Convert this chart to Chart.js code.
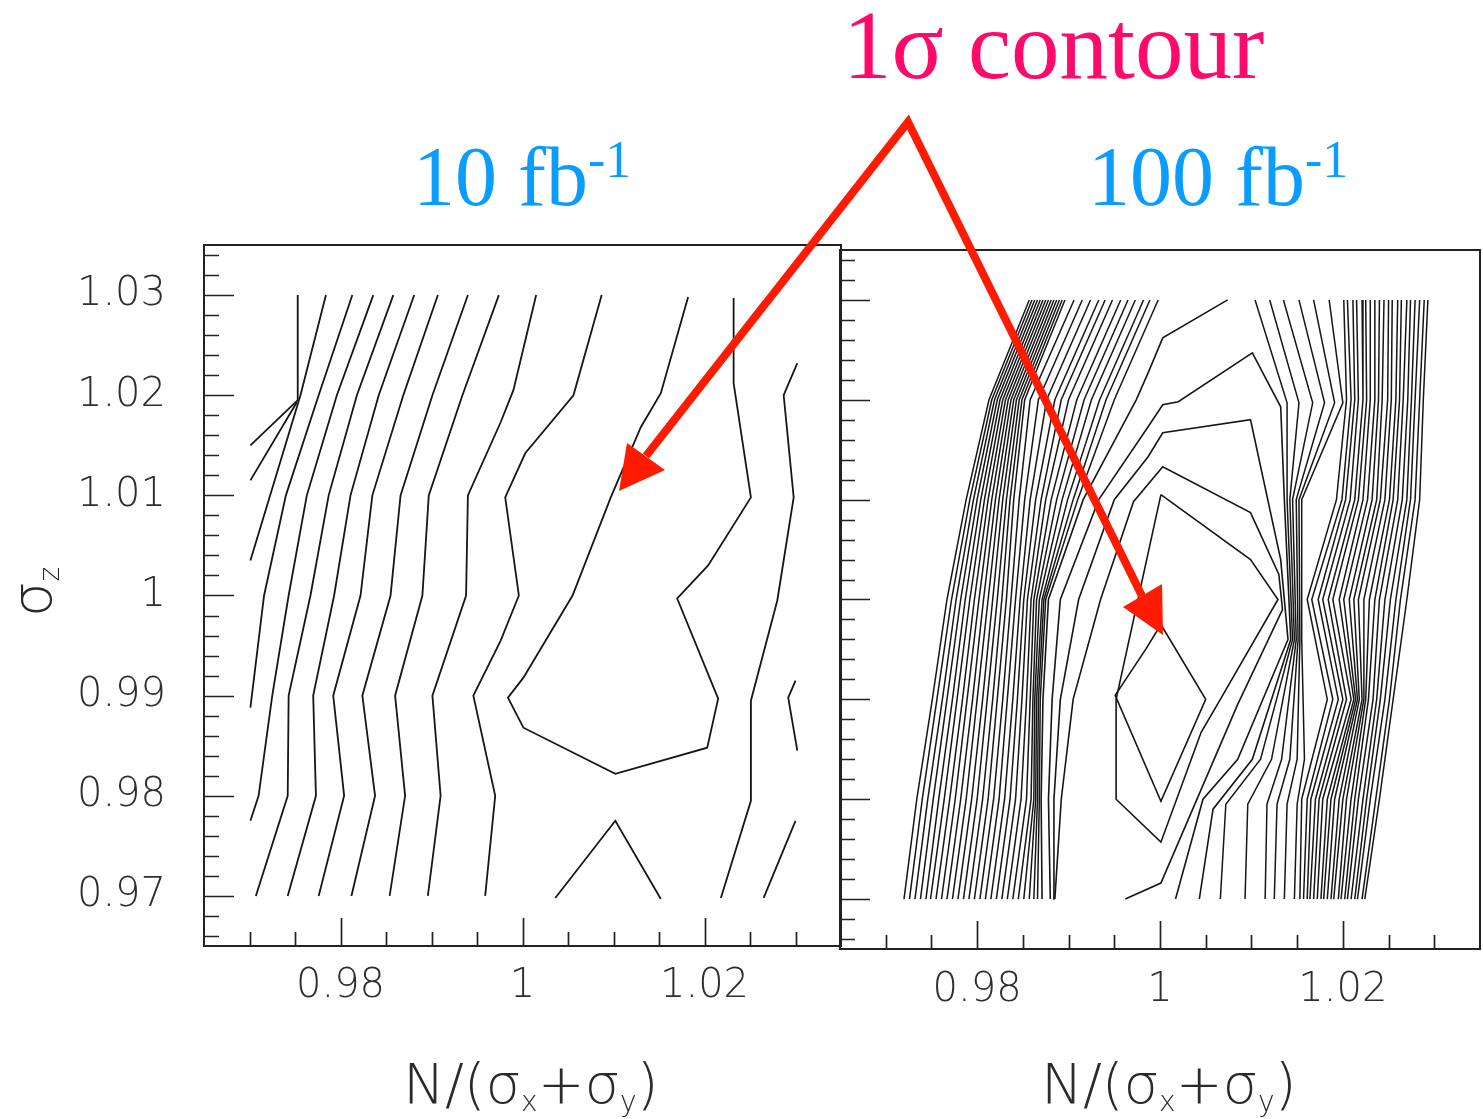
<!DOCTYPE html>
<html>
<head>
<meta charset="utf-8">
<title>sigma_z contours</title>
<script src="https://cdn.jsdelivr.net/npm/chart.js@4.4.1/dist/chart.umd.min.js"></script>
<style>
  html, body { margin: 0; padding: 0; background: #fff; }
  #page { position: relative; width: 1483px; height: 1119px; overflow: hidden; }
  canvas { position: absolute; top: 0; }
  #lumi10 { left: 0; }
  #lumi100 { left: 760px; }
  .note { position: absolute; white-space: nowrap; line-height: 1; font-family: "Liberation Serif", "Times New Roman", serif; }
  .note sup { font-size: 52px; position: relative; top: -28px; vertical-align: baseline; line-height: 0; }
  .axis { position: absolute; white-space: nowrap; line-height: 1; font-family: "DejaVu Sans", sans-serif; font-weight: 200; color: #2a2a2a; font-size: 56px; }
  .axis sub { font-size: 0.5em; vertical-align: -0.3em; line-height: 0; }
  #arrows { position: absolute; left: 0; top: 0; }
</style>
</head>
<body>
<div id="page">
  <canvas id="lumi10" width="842" height="1119"></canvas>
  <canvas id="lumi100" width="723" height="1119"></canvas>

  <div class="note" style="left:843px; top:-3px; font-size:97px; color:#ff0a6a;">1σ contour</div>
  <div class="note" style="left:413px; top:135px; font-size:84px; color:#0a9cff;">10 fb<sup>-1</sup></div>
  <div class="note" style="left:1088px; top:135px; font-size:84px; color:#0a9cff;">100 fb<sup>-1</sup></div>

  <div class="axis" style="left:403px; top:1056px;">N/(σ<sub>x</sub>+σ<sub>y</sub>)</div>
  <div class="axis" style="left:1041px; top:1056px;">N/(σ<sub>x</sub>+σ<sub>y</sub>)</div>
  <div class="axis" style="left:2px; top:564px; width:60px; height:56px; text-align:center; transform:rotate(-90deg);">σ<sub>z</sub></div>

  <svg id="arrows" width="1483" height="1119">
    <polyline points="646,456 908,122 1142,596" fill="none" stroke="#ff1a00" stroke-width="8" stroke-linejoin="miter" stroke-miterlimit="12"/>
    <polygon points="619,491 627,443 665,470" fill="#ff1a00"/>
    <polygon points="1163,635 1123,607 1162,584" fill="#ff1a00"/>
  </svg>
</div>

<script>
// axis ticks shared by both panels
const xTickVals = [0.98, 1.00, 1.02];
const xTickLabels = ['0.98', '1', '1.02'];
const yTickVals = [0.97, 0.98, 0.99, 1.00, 1.01, 1.02, 1.03];
const yTickLabels = ['0.97', '0.98', '0.99', '1', '1.01', '1.02', '1.03'];

// 10 fb-1 : contour polylines as [x, y] pairs
const contours10 = [
  [[0.9753, 1.03], [0.9753, 1.0195], [0.9701, 1.015]],
  [[0.9784, 1.03], [0.9756, 1.02], [0.9701, 1.0035]],
  [[0.9701, 1.0115], [0.9752, 1.0193]],
  [[0.9813, 1.03], [0.9776, 1.02], [0.9740, 1.01], [0.9716, 1.00], [0.9701, 0.9888]],
  [[0.9836, 1.03], [0.9796, 1.02], [0.9763, 1.01], [0.9743, 1.00], [0.9725, 0.99], [0.9710, 0.98], [0.9701, 0.9775]],
  [[0.9858, 1.03], [0.9818, 1.02], [0.9787, 1.01], [0.9767, 1.00], [0.9743, 0.99], [0.9742, 0.98], [0.9707, 0.97]],
  [[0.9881, 1.03], [0.9842, 1.02], [0.9811, 1.01], [0.9793, 1.00], [0.9770, 0.99], [0.9773, 0.98], [0.9742, 0.97]],
  [[0.9907, 1.03], [0.9869, 1.02], [0.9835, 1.01], [0.9822, 1.00], [0.9792, 0.99], [0.9804, 0.98], [0.9776, 0.97]],
  [[0.9940, 1.03], [0.9901, 1.02], [0.9866, 1.01], [0.9855, 1.00], [0.9824, 0.99], [0.9838, 0.98], [0.9812, 0.97]],
  [[0.9974, 1.03], [0.9934, 1.02], [0.9897, 1.01], [0.9890, 1.00], [0.9860, 0.99], [0.9871, 0.98], [0.9854, 0.97]],
  [[1.0015, 1.03], [0.9990, 1.0205], [0.9976, 1.0173], [0.9940, 1.01], [0.9938, 1.00], [0.9901, 0.99], [0.9910, 0.98], [0.9896, 0.97]],
  [[1.0087, 1.03], [1.0056, 1.02], [1.0003, 1.0142], [0.9981, 1.0098], [0.9996, 1.00], [0.9976, 0.9955], [0.9946, 0.99], [0.9970, 0.98], [0.9959, 0.97]],
  // 1 sigma
  [[1.0182, 1.0298], [1.0152, 1.0202], [1.0130, 1.0168], [1.0097, 1.0098], [1.0055, 1.00], [1.0001, 0.9918], [0.9984, 0.9898],
   [1.0001, 0.9868], [1.0102, 0.9822], [1.0203, 0.9848], [1.0215, 0.9897], [1.0170, 0.9997], [1.0204, 1.003], [1.0251, 1.0098],
   [1.0232, 1.0212], [1.0232, 1.0297]],
  [[1.0036, 0.9698], [1.0102, 0.9775], [1.0152, 0.9697]],
  [[1.0302, 1.0232], [1.0287, 1.02], [1.0298, 1.0098], [1.0280, 0.9995], [1.0251, 0.9895], [1.0251, 0.9795], [1.0218, 0.9698]],
  [[1.0300, 0.9915], [1.0292, 0.9898], [1.0302, 0.9845]],
  [[1.0300, 0.9775], [1.0265, 0.9698]]
];

// 100 fb-1 : band lines given as x at each grid row
const rows100 = [1.03, 1.02, 1.01, 1.00, 0.99, 0.98, 0.97];

const bandLeft100 = [
  [0.9857, 0.9813, 0.9788, 0.9767, 0.9751, 0.9734, 0.9720],
  [0.9860, 0.9816, 0.9792, 0.9772, 0.9756, 0.9740, 0.9726],
  [0.9863, 0.9819, 0.9796, 0.9777, 0.9762, 0.9746, 0.9732],
  [0.9866, 0.9822, 0.9800, 0.9782, 0.9767, 0.9752, 0.9738],
  [0.9869, 0.9825, 0.9804, 0.9787, 0.9773, 0.9758, 0.9744],
  [0.9872, 0.9828, 0.9808, 0.9792, 0.9778, 0.9764, 0.9749],
  [0.9875, 0.9831, 0.9812, 0.9797, 0.9784, 0.9770, 0.9755],
  [0.9878, 0.9834, 0.9816, 0.9802, 0.9789, 0.9776, 0.9761],
  [0.9881, 0.9837, 0.9820, 0.9807, 0.9795, 0.9782, 0.9767],
  [0.9884, 0.9840, 0.9824, 0.9812, 0.9800, 0.9788, 0.9773],
  [0.9887, 0.9843, 0.9828, 0.9817, 0.9806, 0.9794, 0.9779],
  [0.9890, 0.9846, 0.9832, 0.9822, 0.9811, 0.9800, 0.9785],
  [0.9893, 0.9849, 0.9836, 0.9827, 0.9817, 0.9806, 0.9791],
  [0.9896, 0.9852, 0.9840, 0.9832, 0.9822, 0.9812, 0.9797],
  [0.9906, 0.9858, 0.9846, 0.9837, 0.9828, 0.9818, 0.9803],
  [0.9915, 0.9867, 0.9852, 0.9842, 0.9833, 0.9824, 0.9809],
  [0.9924, 0.9876, 0.9858, 0.9847, 0.9839, 0.9830, 0.9815],
  [0.9933, 0.9885, 0.9864, 0.9851, 0.9844, 0.9836, 0.9821],
  [0.9940, 0.9892, 0.9870, 0.9855, 0.9849, 0.9842, 0.9827],
  [0.9948, 0.9900, 0.9875, 0.9859, 0.9854, 0.9848, 0.9833],
  [0.9957, 0.9909, 0.9881, 0.9862, 0.9858, 0.9854, 0.9839],
  [0.9965, 0.9917, 0.9887, 0.9865, 0.9861, 0.9859, 0.9845],
  [0.9973, 0.9925, 0.9893, 0.9868, 0.9863, 0.9862, 0.9851],
  [0.9982, 0.9934, 0.9899, 0.9871, 0.9865, 0.9864, 0.9857],
  [0.9989, 0.9941, 0.9905, 0.9873, 0.9867, 0.9866, 0.9862],
  [0.9998, 0.9950, 0.9910, 0.9875, 0.9869, 0.9868, 0.9866]
];

const bandRight100 = [
  [1.0201, 1.0204, 1.0193, 1.0161, 1.0183, 1.0155, 1.0153],
  [1.0205, 1.0209, 1.0199, 1.0166, 1.0189, 1.0161, 1.0157],
  [1.0211, 1.0213, 1.0203, 1.0173, 1.0195, 1.0165, 1.0161],
  [1.0215, 1.0217, 1.0208, 1.0178, 1.0200, 1.0170, 1.0164],
  [1.0221, 1.0222, 1.0213, 1.0184, 1.0204, 1.0174, 1.0168],
  [1.0225, 1.0226, 1.0217, 1.0189, 1.0209, 1.0178, 1.0172],
  [1.0230, 1.0230, 1.0222, 1.0196, 1.0212, 1.0183, 1.0176],
  [1.0235, 1.0235, 1.0227, 1.0201, 1.0214, 1.0187, 1.0179],
  [1.0240, 1.0239, 1.0232, 1.0207, 1.0216, 1.0191, 1.0183],
  [1.0245, 1.0243, 1.0237, 1.0212, 1.0218, 1.0196, 1.0187],
  [1.0250, 1.0249, 1.0241, 1.0217, 1.0221, 1.0200, 1.0190],
  [1.0254, 1.0253, 1.0246, 1.0223, 1.0223, 1.0204, 1.0195],
  [1.0260, 1.0258, 1.0251, 1.0229, 1.0225, 1.0209, 1.0198],
  [1.0264, 1.0262, 1.0255, 1.0235, 1.0228, 1.0213, 1.0202],
  [1.0270, 1.0266, 1.0260, 1.0240, 1.0233, 1.0217, 1.0205],
  [1.0274, 1.0271, 1.0265, 1.0246, 1.0237, 1.0222, 1.0209],
  [1.0279, 1.0275, 1.0270, 1.0252, 1.0241, 1.0226, 1.0213],
  [1.0284, 1.0279, 1.0274, 1.0258, 1.0246, 1.0230, 1.0216],
  [1.0289, 1.0284, 1.0279, 1.0263, 1.0251, 1.0236, 1.0221],
  [1.0293, 1.0288, 1.0284, 1.0270, 1.0255, 1.0240, 1.0224]
];

// lines squeezed through the ridge near x = 1.014
const ridgeRows100 = [1.03, 1.0197, 1.01, 0.996, 0.984, 0.9795, 0.97];
const ridge100 = [
  [1.0104, 1.0139, 1.0139, 1.0145, 1.0110, 1.0072, 1.0066],
  [1.0120, 1.0152, 1.0142, 1.0147, 1.0122, 1.0096, 1.0093],
  [1.0135, 1.0167, 1.0145, 1.0149, 1.0133, 1.0117, 1.0115],
  [1.0152, 1.0180, 1.0149, 1.0151, 1.0142, 1.0128, 1.0125],
  [1.0168, 1.0191, 1.0152, 1.0153, 1.0150, 1.0139, 1.0136],
  [1.0185, 1.0200, 1.0155, 1.0155, 1.0158, 1.0150, 1.0147]
];

// nested contours around the minimum near (1.00, 0.99)
const rings100 = [
  [[1.0001, 0.9975], [1.0050, 0.9900], [1.0001, 0.9798], [0.9951, 0.9904], [0.9985, 0.9951], [1.0001, 0.9975]],
  [[1.0001, 1.0105], [1.0099, 1.0040], [1.0129, 1.0000], [1.0066, 0.9900], [1.0045, 0.9867], [1.0001, 0.9757],
   [0.9952, 0.9800], [0.9952, 0.9900], [1.0001, 1.0105]],
  [[0.9885, 0.97], [0.9892, 0.98], [0.9905, 0.99], [0.9935, 1.00], [0.9971, 1.0098], [1.0003, 1.0133], [1.0099, 1.0087],
   [1.0130, 1.0025], [1.0134, 0.9990], [1.0085, 0.9895], [1.0001, 0.9716], [0.9962, 0.97]],
  [[0.9883, 0.97], [0.9884, 0.98], [0.9891, 0.99], [0.9911, 1.00], [0.9950, 1.01], [0.9987, 1.0143], [1.0003, 1.0167],
   [1.0099, 1.0180], [1.0132, 1.0040], [1.0140, 0.9960], [1.0085, 0.9840], [1.0047, 0.9800], [1.0017, 0.97]],
  [[0.9880, 0.97], [0.9878, 0.98], [0.9882, 0.99], [0.9891, 1.00], [0.9933, 1.01], [0.9987, 1.0173], [1.0003, 1.0195],
   [1.0020, 1.0198], [1.0101, 1.0247], [1.0132, 1.0193], [1.0136, 1.0100], [1.0143, 0.9960], [1.0101, 0.9840],
   [1.0058, 0.9790], [1.0043, 0.97]],
  [[1.0074, 1.03], [1.0003, 1.0262], [0.9987, 1.0227], [0.9974, 1.02], [0.9916, 1.01], [0.9878, 1.00], [0.9872, 0.99],
   [0.9870, 0.98], [0.9871, 0.97]]
];

const ink = '#161616';
const tickFont = { family: 'DejaVu Sans', size: 40, weight: '200' };

function toPoints(pairs) {
  return pairs.map(([x, y]) => ({ x: x, y: y }));
}
function bandPoints(xs, ys) {
  return xs.map((x, i) => ({ x: x, y: ys[i] }));
}
function lineSet(points, width) {
  return { data: points, showLine: true, borderColor: ink, borderWidth: width, pointRadius: 0, tension: 0, fill: false };
}

// frame plus inward ticks, placed through the chart scales
const frameTicks = {
  id: 'frameTicks',
  afterDraw(chart) {
    const ctx = chart.ctx;
    const a = chart.chartArea;
    const xs = chart.scales.x;
    const ys = chart.scales.y;
    ctx.save();
    ctx.strokeStyle = '#222';
    ctx.lineWidth = 2;
    ctx.strokeRect(a.left, a.top, a.right - a.left, a.bottom - a.top);
    ctx.lineWidth = 1.7;
    ctx.beginPath();
    for (let k = 483; k <= 517; k++) {
      const py = Math.round(ys.getPixelForValue(k * 0.002)) + 0.5;
      const len = k % 5 === 0 ? 30 : 15;
      ctx.moveTo(a.left, py);
      ctx.lineTo(a.left + len, py);
    }
    for (let k = 194; k <= 206; k++) {
      const px = Math.round(xs.getPixelForValue(k * 0.005)) + 0.5;
      const len = k % 4 === 0 ? 28 : 14;
      ctx.moveTo(px, a.bottom);
      ctx.lineTo(px, a.bottom - len);
    }
    ctx.stroke();
    ctx.restore();
  }
};

function makeChart(id, datasets, cfg) {
  return new Chart(document.getElementById(id), {
    type: 'scatter',
    data: { datasets: datasets },
    options: {
      responsive: false,
      animation: false,
      devicePixelRatio: 1,
      layout: { padding: { top: cfg.top, right: cfg.right, left: 0, bottom: 0 } },
      plugins: { legend: { display: false }, tooltip: { enabled: false } },
      scales: {
        x: {
          type: 'linear', min: 0.965, max: 1.035,
          grid: { display: false }, border: { display: false },
          afterBuildTicks: s => { s.ticks = xTickVals.map(v => ({ value: v })); },
          afterFit: s => { s.height = cfg.xHeight; },
          ticks: {
            padding: cfg.xPad, color: '#2e2e2e', font: tickFont, maxRotation: 0, autoSkip: false,
            callback: (v, i) => xTickLabels[i]
          }
        },
        y: {
          type: 'linear', min: 0.965, max: 1.035,
          grid: { display: false }, border: { display: false },
          afterBuildTicks: s => { s.ticks = yTickVals.map(v => ({ value: v })); },
          afterFit: s => { s.width = cfg.yWidth; },
          ticks: {
            display: cfg.yLabels, padding: 30, color: '#2e2e2e', font: tickFont, autoSkip: false,
            callback: (v, i) => yTickLabels[i]
          }
        }
      }
    },
    plugins: [frameTicks]
  });
}

const sets10 = contours10.map(p => lineSet(toPoints(p), 1.8));

const sets100 = []
  .concat(bandLeft100.map(xs => lineSet(bandPoints(xs, rows100), 1.5)))
  .concat(bandRight100.map(xs => lineSet(bandPoints(xs, rows100), 1.5)))
  .concat(ridge100.map(xs => lineSet(bandPoints(xs, ridgeRows100), 1.5)))
  .concat(rings100.map(p => lineSet(toPoints(p), 1.6)));

makeChart('lumi10', sets10, { top: 245, right: 1, xHeight: 173, xPad: 9, yWidth: 204, yLabels: true });
makeChart('lumi100', sets100, { top: 250, right: 3, xHeight: 170, xPad: 10, yWidth: 80, yLabels: false });
</script>
</body>
</html>
